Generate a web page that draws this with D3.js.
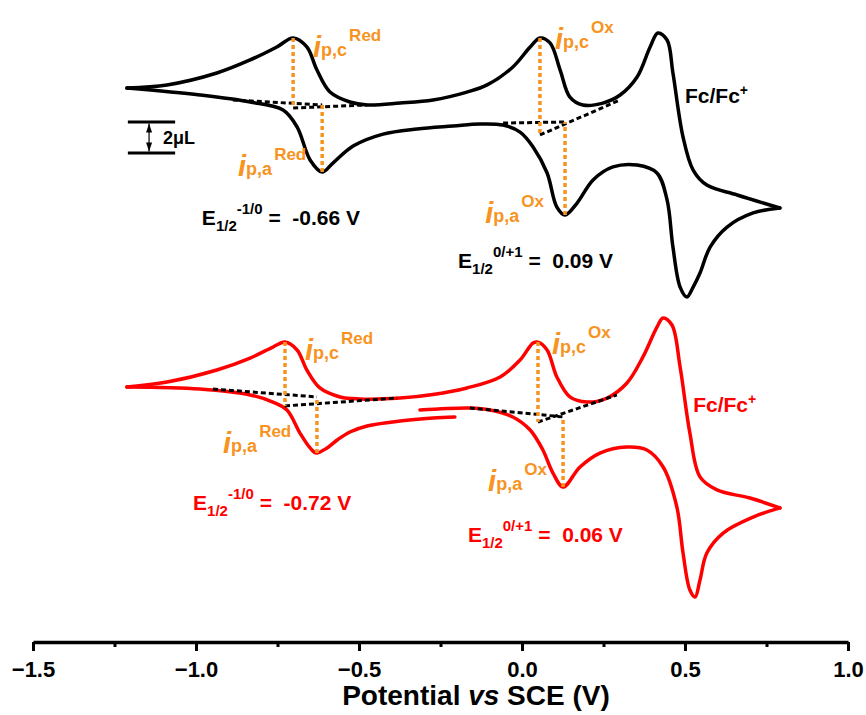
<!DOCTYPE html>
<html><head><meta charset="utf-8">
<script src="https://cdn.jsdelivr.net/npm/d3@7"></script>
<style>
body{margin:0;background:#fff}
svg{display:block}
text{font-family:"Liberation Sans",Arial,sans-serif;font-weight:bold}
</style>
</head><body>
<svg id="chart" width="866" height="715"></svg>
<script>
// ---------- data (potential in V vs SCE, current in µA, offset per trace) ----------
const xTicks = [-1.5, -1.0, -0.5, 0.0, 0.5, 1.0];
const xMinorTicks = [-1.25, -0.75, -0.25, 0.25, 0.75];
const xTickLabels = ["\u22121.5", "\u22121.0", "\u22120.5", "0.0", "0.5", "1.0"];

// black trace: forward (upper) branch, left tip -> right tip
const blackFwd = [[-1.212,35.74],[-1.089,35.94],[-0.936,36.71],[-0.834,37.55],[-0.752,38.39],[-0.702,38.97],
  [-0.660,38.39],[-0.629,36.90],[-0.589,35.48],[-0.528,34.84],[-0.475,34.65],[-0.374,34.77],[-0.273,34.97],
  [-0.169,35.48],[-0.107,35.94],[-0.028,37.10],[0.025,38.39],[0.055,38.97],[0.086,38.65],[0.117,36.90],
  [0.147,35.16],[0.187,34.65],[0.248,34.77],[0.301,35.29],[0.353,36.45],[0.393,38.39],[0.417,39.29],
  [0.445,38.84],[0.463,36.71],[0.494,32.58],[0.525,30.45],[0.567,29.48],[0.660,28.84],[0.791,28.00]];
// black trace: reverse (lower) branch, right tip -> left tip
const blackRev = [[0.791,28.00],[0.709,27.68],[0.629,26.77],[0.577,25.48],[0.546,23.81],[0.525,22.90],
  [0.506,22.26],[0.485,22.90],[0.463,25.48],[0.445,28.52],[0.414,30.26],[0.353,30.77],[0.279,30.65],
  [0.218,29.81],[0.169,28.32],[0.132,27.55],[0.107,28.06],[0.077,30.26],[0.034,31.94],[-0.006,32.90],
  [-0.058,33.35],[-0.129,33.42],[-0.212,33.29],[-0.322,33.10],[-0.426,32.77],[-0.518,32.00],[-0.580,30.90],
  [-0.613,30.32],[-0.650,31.10],[-0.690,33.23],[-0.733,34.32],[-0.834,34.84],[-0.988,35.29],[-1.212,35.74]];

// red trace: upper branch, left tip -> right tip
const redUpper = [[-1.212,16.45],[-1.089,16.77],[-0.936,17.55],[-0.834,18.32],[-0.764,19.03],[-0.727,19.35],
  [-0.690,18.84],[-0.660,17.55],[-0.620,16.39],[-0.558,15.81],[-0.497,15.68],[-0.374,15.74],[-0.273,15.97],
  [-0.169,16.39],[-0.067,17.10],[-0.006,18.19],[0.034,19.29],[0.049,19.35],[0.077,18.84],[0.107,17.10],
  [0.147,15.81],[0.199,15.48],[0.261,15.74],[0.322,16.71],[0.371,18.39],[0.414,20.32],[0.433,20.90],
  [0.460,20.45],[0.485,17.74],[0.515,13.48],[0.546,10.65],[0.598,9.81],[0.699,9.29],[0.791,8.65]];
// red trace: lower branch, start of scan -> right tip
const redLowerRight = [[-0.313,14.97],[-0.160,15.10],[-0.098,14.97],[-0.028,14.52],[0.025,13.68],[0.064,12.39],
  [0.095,10.90],[0.126,10.00],[0.178,11.29],[0.239,12.19],[0.322,12.58],[0.383,12.39],[0.433,11.29],
  [0.475,8.71],[0.494,5.74],[0.515,3.35],[0.531,2.90],[0.546,4.00],[0.567,5.74],[0.617,7.03],[0.709,8.06],[0.791,8.65]];
// red trace: lower branch, left tip -> end of scan
const redLowerLeft = [[-1.212,16.45],[-0.988,16.32],[-0.834,15.94],[-0.764,15.48],[-0.721,14.97],[-0.681,13.48],
  [-0.650,12.52],[-0.632,12.19],[-0.598,12.52],[-0.567,13.03],[-0.528,13.55],[-0.475,13.94],[-0.374,14.26],
  [-0.273,14.45],[-0.206,14.52]];

// baselines (black dashed) [[V,I],[V,I]]
const blackBaselines = [[[-0.887,34.97],[-0.613,34.65]],[[-0.702,34.45],[-0.475,34.65]],
  [[-0.058,33.48],[0.132,33.55]],[[0.055,32.71],[0.301,34.97]]];
const redBaselines = [[[-0.948,16.32],[-0.629,15.81]],[[-0.727,15.23],[-0.383,15.74]],
  [[-0.160,15.10],[0.126,14.52]],[[0.049,14.19],[0.291,15.94]]];
// peak current markers (orange dotted) [V, I_peak, I_baseline]
const blackPeaks = [[-0.702,38.97,34.45],[-0.613,30.32,34.65],[0.055,38.97,32.71],[0.132,27.55,33.55]];
const redPeaks = [[-0.727,19.35,15.23],[-0.629,12.19,15.81],[0.049,19.35,14.19],[0.126,10.00,14.52]];

// annotations
const peakLabels = [
  {v:-0.641,i:37.74,sub:"p,c",sup:"Red"},{v:-0.871,i:30.06,sub:"p,a",sup:"Red"},
  {v:0.101,i:38.26,sub:"p,c",sup:"Ox"},{v:-0.113,i:27.03,sub:"p,a",sup:"Ox"},
  {v:-0.666,i:18.19,sub:"p,c",sup:"Red"},{v:-0.917,i:12.19,sub:"p,a",sup:"Red"},
  {v:0.092,i:18.58,sub:"p,c",sup:"Ox"},{v:-0.104,i:9.74,sub:"p,a",sup:"Ox"}];
const e12Labels = [
  {v:-0.982,i:26.90,sup:"-1/0",val:"-0.66 V",color:"#000"},
  {v:-0.196,i:24.13,sup:"0/+1",val:"0.09 V",color:"#000"},
  {v:-1.009,i:8.52,sup:"-1/0",val:"-0.72 V",color:"#ff0000"},
  {v:-0.166,i:6.45,sup:"0/+1",val:"0.06 V",color:"#ff0000"}];
const fcLabels = [{v:0.500,i:34.77,color:"#000"},{v:0.525,i:14.84,color:"#ff0000"}];
const scaleBar = {v0:-1.209,v1:-1.064,vMid:-1.144,iTop:33.55,iBot:31.55,label:"2\u03bcL",labelV:-1.101,labelI:32.13};

// ---------- drawing ----------
const svg = d3.select("#chart");
const x = d3.scaleLinear().domain([-1.5, 1.0]).range([33, 848]);
const y = d3.scaleLinear().domain([0, 40]).range([642, 22]);
const orange = "#f7931e";
const line = d3.line().x(d => x(d[0])).y(d => y(d[1])).curve(d3.curveCatmullRom.alpha(0.5));
const straight = d3.line().x(d => x(d[0])).y(d => y(d[1]));

// axis
const axisG = svg.append("g").attr("transform", `translate(0,${y(0)})`);
axisG.call(d3.axisBottom(x).tickValues(xTicks).tickSize(9).tickSizeOuter(0).tickPadding(10)
  .tickFormat((d, k) => xTickLabels[k]));
axisG.select(".domain").attr("stroke", "#000").attr("stroke-width", 3.5);
axisG.selectAll(".tick line").attr("stroke", "#000").attr("stroke-width", 3);
axisG.selectAll(".tick text").attr("fill", "#000").attr("font-size", 22)
  .attr("font-family", '"Liberation Sans",Arial,sans-serif').attr("font-weight", "bold");
const minorG = svg.append("g").attr("transform", `translate(0,${y(0)})`);
minorG.call(d3.axisBottom(x).tickValues(xMinorTicks).tickSize(5).tickFormat(""));
minorG.select(".domain").remove();
minorG.selectAll(".tick line").attr("stroke", "#000").attr("stroke-width", 3);

const title = svg.append("text").attr("x", 476).attr("y", 705).attr("text-anchor", "middle")
  .attr("font-size", 28).attr("fill", "#000");
title.append("tspan").text("Potential ");
title.append("tspan").attr("font-style", "italic").text("vs");
title.append("tspan").text(" SCE (V)");

// baselines
function drawBaselines(arr) {
  svg.append("g").selectAll("path").data(arr).join("path")
    .attr("d", straight).attr("fill", "none").attr("stroke", "#000")
    .attr("stroke-width", 3).attr("stroke-dasharray", "5,3");
}
function drawPeaks(arr) {
  svg.append("g").selectAll("line").data(arr).join("line")
    .attr("x1", d => x(d[0])).attr("x2", d => x(d[0]))
    .attr("y1", d => y(d[1])).attr("y2", d => y(d[2]))
    .attr("stroke", orange).attr("stroke-width", 3.5).attr("stroke-dasharray", "4,3");
}

// curves
function drawCurve(data, color) {
  svg.append("path").datum(data).attr("d", line).attr("fill", "none")
    .attr("stroke", color).attr("stroke-width", 3.5).attr("stroke-linejoin", "round").attr("stroke-linecap", "round");
}
drawCurve(blackFwd, "#000");
drawCurve(blackRev, "#000");
drawCurve(redUpper, "#ff0000");
drawCurve(redLowerRight, "#ff0000");
drawCurve(redLowerLeft, "#ff0000");
drawBaselines(blackBaselines);
drawBaselines(redBaselines);
drawPeaks(blackPeaks);
drawPeaks(redPeaks);

// peak labels
peakLabels.forEach(a => {
  const t = svg.append("text").attr("x", x(a.v)).attr("y", y(a.i)).attr("fill", orange);
  t.append("tspan").attr("font-style", "italic").attr("font-size", 29).text("i");
  t.append("tspan").attr("font-size", 18).attr("dy", -1).text(a.sub);
  t.append("tspan").attr("font-size", 17).attr("dx", 2).attr("dy", -15).text(a.sup);
});

// E1/2 labels
e12Labels.forEach(a => {
  const t = svg.append("text").attr("x", x(a.v)).attr("y", y(a.i)).attr("fill", a.color).attr("font-size", 21);
  t.append("tspan").text("E");
  t.append("tspan").attr("font-size", 15).attr("dy", 6).text("1/2");
  t.append("tspan").attr("font-size", 15).attr("dy", -17).text(a.sup);
  t.append("tspan").attr("dy", 11).text("\u00a0=\u00a0\u00a0" + a.val);
});

// Fc/Fc+ labels
fcLabels.forEach(a => {
  const t = svg.append("text").attr("x", x(a.v)).attr("y", y(a.i)).attr("fill", a.color).attr("font-size", 21);
  t.append("tspan").text("Fc/Fc");
  t.append("tspan").attr("font-size", 14).attr("dy", -8).text("+");
});

// scale bar
const sb = svg.append("g");
sb.selectAll("line.h").data([scaleBar.iTop, scaleBar.iBot]).join("line")
  .attr("x1", x(scaleBar.v0)).attr("x2", x(scaleBar.v1)).attr("y1", d => y(d)).attr("y2", d => y(d))
  .attr("stroke", "#000").attr("stroke-width", 3);
const xm = x(scaleBar.vMid), yt = y(scaleBar.iTop) + 1.5, yb = y(scaleBar.iBot) - 1.5;
sb.append("line").attr("x1", xm).attr("x2", xm).attr("y1", yt).attr("y2", yb).attr("stroke", "#000").attr("stroke-width", 1.2);
sb.append("path").attr("d", `M${xm},${yt}L${xm-3},${yt+9}L${xm+3},${yt+9}Z`).attr("fill", "#000");
sb.append("path").attr("d", `M${xm},${yb}L${xm-3},${yb-9}L${xm+3},${yb-9}Z`).attr("fill", "#000");
sb.append("text").attr("x", x(scaleBar.labelV)).attr("y", y(scaleBar.labelI)).attr("font-size", 18)
  .attr("fill", "#000").text(scaleBar.label);
</script>
</body></html>
